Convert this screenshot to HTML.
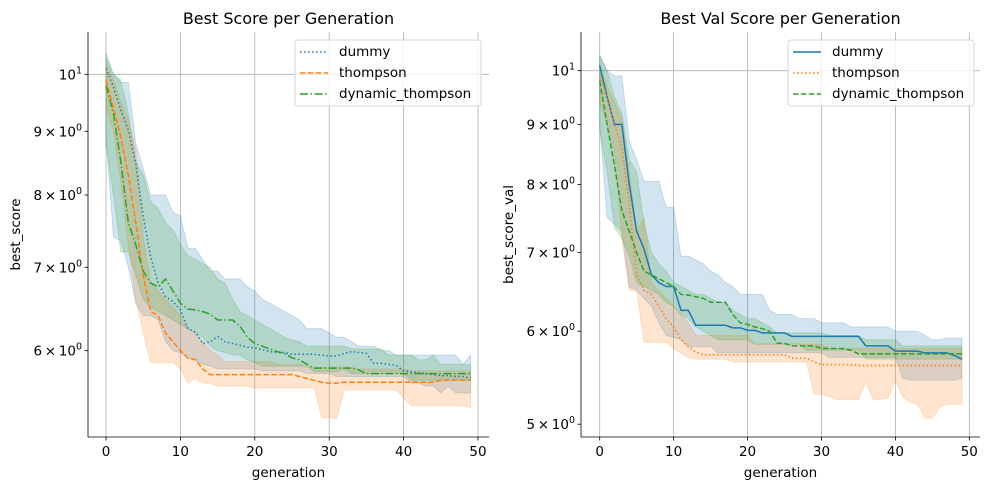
<!DOCTYPE html>
<html><head><meta charset="utf-8"><style>
body{margin:0;background:#fff;font-family:"Liberation Sans","DejaVu Sans",sans-serif}
svg text{font-family:"DejaVu Sans","Liberation Sans",sans-serif}
</style></head><body>
<svg id="c" width="989" height="490"></svg>
<script>
const generations=[...Array(50).keys()];
const xTicks=[0,10,20,30,40,50];
const yTicksL=[6,7,8,9];
const yTicksR=[5,6,7,8,9];
const seriesNames=["dummy","thompson","dynamic_thompson"];
// Left panel: best_score
const L_dummy=[10.11,9.77,9.36,9.02,8.48,7.69,7.14,6.80,6.63,6.57,6.47,6.25,6.21,6.08,6.10,6.16,6.10,6.08,6.06,6.04,6.03,6.01,5.99,5.98,5.98,5.96,5.96,5.96,5.96,5.95,5.94,5.94,5.97,5.99,5.98,5.97,5.86,5.86,5.85,5.84,5.78,5.77,5.76,5.75,5.74,5.73,5.73,5.72,5.72,5.70];
const L_thompson=[9.9,9.4,8.9,8.3,7.6,6.9,6.45,6.4,6.2,6.1,6.0,5.92,5.9,5.8,5.74,5.74,5.74,5.74,5.74,5.74,5.74,5.74,5.74,5.74,5.74,5.74,5.72,5.70,5.68,5.66,5.65,5.65,5.66,5.66,5.66,5.66,5.66,5.66,5.66,5.66,5.66,5.66,5.66,5.66,5.66,5.68,5.68,5.68,5.68,5.68];
const L_dyn=[9.8,9.3,8.5,7.6,7.3,6.95,6.8,6.75,6.85,6.7,6.55,6.48,6.47,6.45,6.42,6.35,6.35,6.35,6.28,6.15,6.08,6.05,6.02,5.99,5.97,5.92,5.90,5.85,5.81,5.81,5.81,5.81,5.81,5.81,5.79,5.75,5.75,5.75,5.75,5.75,5.75,5.75,5.75,5.75,5.75,5.75,5.75,5.75,5.75,5.75];
const L_dummyHi=[10.4,10.0,9.85,9.85,8.8,8.4,8.0,8.0,8.0,7.75,7.7,7.25,7.25,7.1,6.95,6.95,6.85,6.85,6.85,6.75,6.7,6.6,6.55,6.5,6.45,6.4,6.35,6.25,6.25,6.25,6.2,6.15,6.15,6.1,6.05,6.05,6.05,6.0,6.0,5.95,5.95,5.95,5.95,5.95,5.95,5.95,5.95,5.95,5.85,5.95];
const L_dummyLo=[8.9,7.4,7.35,7.0,6.55,6.4,6.4,6.35,6.1,6.0,5.98,5.92,5.9,5.85,5.83,5.8,5.8,5.8,5.8,5.8,5.8,5.78,5.78,5.78,5.78,5.78,5.78,5.75,5.75,5.75,5.75,5.72,5.72,5.72,5.72,5.72,5.72,5.72,5.72,5.72,5.72,5.65,5.65,5.62,5.62,5.55,5.62,5.55,5.55,5.55];
const L_thompHi=[10.2,9.9,9.5,9.2,8.7,7.4,6.8,6.7,6.6,6.5,6.4,6.25,6.2,6.1,6.0,5.95,5.88,5.88,5.88,5.88,5.88,5.88,5.88,5.85,5.85,5.85,5.85,5.82,5.82,5.82,5.82,5.82,5.82,5.82,5.8,5.8,5.8,5.8,5.8,5.8,5.8,5.78,5.78,5.78,5.78,5.78,5.78,5.78,5.78,5.78];
const L_thompLo=[9.4,9.0,8.2,7.3,6.6,6.2,5.87,5.87,5.87,5.87,5.8,5.65,5.7,5.65,5.65,5.62,5.62,5.62,5.62,5.62,5.6,5.6,5.6,5.6,5.6,5.6,5.6,5.6,5.6,5.3,5.3,5.29,5.58,5.58,5.58,5.58,5.58,5.58,5.58,5.58,5.5,5.42,5.42,5.42,5.42,5.42,5.42,5.42,5.42,5.4];
const L_dynHi=[10.3,10.0,9.9,9.3,8.5,8.3,7.9,7.8,7.6,7.5,7.3,7.15,7.1,7.05,7.0,6.85,6.8,6.6,6.45,6.4,6.35,6.3,6.25,6.2,6.15,6.12,6.1,6.05,6.05,6.05,6.05,6.05,6.05,6.02,6.02,6.02,6.02,6.02,5.95,5.95,5.95,5.95,5.9,5.9,5.95,5.85,5.85,5.85,5.85,5.85];
const L_dynLo=[8.8,8.0,7.2,7.2,6.9,6.6,6.5,6.45,6.4,6.35,6.3,6.25,6.2,6.15,6.05,6.0,5.98,5.95,5.95,5.9,5.87,5.83,5.83,5.83,5.83,5.83,5.83,5.83,5.77,5.77,5.77,5.77,5.8,5.75,5.75,5.75,5.75,5.75,5.75,5.75,5.75,5.68,5.68,5.68,5.68,5.68,5.68,5.68,5.68,5.68];
// Right panel: best_score_val
const R_dummy=[10.1,9.5,9.0,9.0,8.0,7.3,7.05,6.7,6.6,6.55,6.55,6.25,6.25,6.07,6.07,6.07,6.07,6.07,6.04,6.04,6.01,6.01,5.98,5.98,5.98,5.98,5.94,5.94,5.94,5.94,5.94,5.94,5.94,5.94,5.94,5.94,5.83,5.83,5.83,5.83,5.77,5.77,5.77,5.77,5.75,5.75,5.75,5.75,5.72,5.68];
const R_thompson=[9.9,9.5,9.0,8.6,7.7,6.7,6.5,6.45,6.3,6.15,6.05,5.9,5.82,5.76,5.73,5.73,5.73,5.73,5.73,5.73,5.73,5.73,5.73,5.73,5.73,5.73,5.69,5.69,5.69,5.65,5.62,5.62,5.62,5.62,5.62,5.61,5.61,5.61,5.61,5.61,5.61,5.61,5.61,5.61,5.61,5.61,5.61,5.61,5.61,5.61];
const R_dyn=[9.8,9.0,8.3,7.6,7.3,7.0,6.75,6.7,6.65,6.6,6.55,6.45,6.44,6.42,6.4,6.35,6.35,6.35,6.2,6.1,6.08,6.05,6.03,6.0,5.86,5.86,5.83,5.83,5.83,5.83,5.80,5.80,5.80,5.80,5.78,5.74,5.74,5.74,5.74,5.74,5.74,5.74,5.74,5.74,5.74,5.74,5.74,5.74,5.74,5.74];
const R_dummyHi=[10.3,10.0,9.9,9.9,8.7,8.4,8.05,8.05,8.05,7.65,7.65,6.95,6.95,6.9,6.85,6.75,6.7,6.6,6.55,6.45,6.45,6.45,6.45,6.25,6.2,6.2,6.2,6.15,6.15,6.15,6.1,6.1,6.1,6.1,6.05,6.05,6.05,6.05,6.05,6.05,6.0,6.0,6.0,6.0,5.95,5.9,5.9,5.92,5.92,5.92];
const R_dummyLo=[9.0,7.5,7.4,7.3,6.55,6.5,6.4,6.3,6.1,5.95,5.93,5.9,5.82,5.82,5.82,5.82,5.75,5.75,5.75,5.75,5.75,5.75,5.75,5.75,5.75,5.75,5.75,5.75,5.75,5.75,5.75,5.7,5.7,5.7,5.7,5.7,5.7,5.7,5.7,5.7,5.7,5.47,5.45,5.45,5.45,5.45,5.45,5.45,5.45,5.47];
const R_thompHi=[10.1,9.7,9.4,9.1,8.2,7.3,7.5,6.6,6.5,6.4,6.3,6.2,6.1,5.95,5.95,5.95,5.95,5.95,5.95,5.95,5.95,5.85,5.85,5.85,5.85,5.85,5.85,5.85,5.85,5.85,5.85,5.8,5.8,5.8,5.8,5.8,5.8,5.8,5.8,5.8,5.8,5.8,5.8,5.8,5.8,5.8,5.8,5.8,5.8,5.8];
const R_thompLo=[9.4,9.0,8.5,7.2,6.5,6.5,5.87,5.87,5.87,5.87,5.8,5.75,5.7,5.68,5.68,5.68,5.68,5.68,5.65,5.65,5.65,5.65,5.65,5.65,5.65,5.65,5.65,5.65,5.65,5.3,5.3,5.28,5.25,5.25,5.25,5.25,5.43,5.25,5.25,5.26,5.45,5.28,5.22,5.2,5.06,5.06,5.17,5.2,5.2,5.2];
const R_dynHi=[10.3,10.0,9.5,9.2,8.4,8.2,7.4,7.0,6.85,6.75,6.6,6.55,6.5,6.45,6.45,6.4,6.35,6.35,6.25,6.2,6.15,6.15,6.1,6.05,5.98,5.98,5.98,5.98,5.98,5.98,5.98,5.95,5.95,5.95,5.95,5.95,5.9,5.9,5.9,5.9,5.9,5.83,5.83,5.83,5.83,5.83,5.83,5.83,5.83,5.83];
const R_dynLo=[8.9,8.2,7.35,7.2,6.95,6.6,6.55,6.5,6.45,6.35,6.3,6.2,6.15,6.05,6.0,5.95,5.9,5.9,5.9,5.9,5.9,5.85,5.85,5.85,5.85,5.85,5.85,5.85,5.78,5.78,5.78,5.78,5.78,5.78,5.78,5.78,5.68,5.68,5.68,5.68,5.68,5.68,5.68,5.68,5.68,5.68,5.68,5.68,5.68,5.68];

const NS="http://www.w3.org/2000/svg";
const svg=document.getElementById('c');
const COL=["#1f77b4","#ff7f0e","#2ca02c"];
function mk(t,a,p){const e=document.createElementNS(NS,t);for(const k in a)e.setAttribute(k,a[k]);(p||svg).appendChild(e);return e;}

function panel(o){
  const g=mk('g',{});
  
  
  const X=v=>o.x0+(v-0)*(o.x50-o.x0)/50;
  const Y=v=>o.y10-Math.log(v/10)*o.k;
  xTicks.forEach(t=>{const l=mk('line',{x1:X(t),x2:X(t),y1:o.top,y2:o.bottom,stroke:'#b0b0b0','stroke-width':0.8},g);
    });
  const hg=mk('line',{x1:o.left,x2:o.right,y1:Y(10),y2:Y(10),stroke:'#b0b0b0','stroke-width':0.8},g);
  
  o.bands.forEach((b,i)=>{
    let d='M'+generations.map(j=>X(j)+','+Y(b[0][j])).join('L')+'L'+generations.slice().reverse().map(j=>X(j)+','+Y(b[1][j])).join('L')+'Z';
    const p=mk('path',{d:d,fill:COL[i],'fill-opacity':0.2,stroke:COL[i],'stroke-opacity':0.2,'stroke-width':1},g);
    
  });
  o.lines.forEach((s,i)=>{
    const d='M'+generations.map(j=>X(j)+','+Y(s[j])).join('L');
    const p=mk('path',{d:d,fill:'none',stroke:COL[i],'stroke-width':1.5,'stroke-dasharray':o.dash[i]},g);
    
  });
  mk('line',{x1:o.left,x2:o.left,y1:o.top,y2:o.bottom,stroke:'#000','stroke-width':0.8},g);
  mk('line',{x1:o.left,x2:o.right,y1:o.bottom,y2:o.bottom,stroke:'#000','stroke-width':0.8},g);
  xTicks.forEach(t=>{mk('line',{x1:X(t),x2:X(t),y1:o.bottom,y2:o.bottom+3.5,stroke:'#000','stroke-width':0.8},g);
    const tx=mk('text',{x:X(t),y:o.bottom+19,'font-size':13.5,'text-anchor':'middle'},g);tx.textContent=t;
    });
  const ys=[10].concat(o.yt);
  ys.forEach(t=>{const y=Y(t);mk('line',{x1:o.left-3.5,x2:o.left,y1:y,y2:y,stroke:'#000','stroke-width':0.8},g);
    const tx=mk('text',{x:o.left-6,y:y+5,'font-size':13.5,'text-anchor':'end'},g);
    
    if(t===10){tx.innerHTML='10<tspan dy="-6" font-size="9.5">1</tspan>';}
    else{tx.innerHTML=t+'\u2009×\u200910<tspan dy="-6" font-size="9.5">0</tspan>';}
  });
  const ti=mk('text',{x:(o.left+o.right)/2,y:24,'font-size':16,'text-anchor':'middle'},g);ti.textContent=o.title;
  
  const xl=mk('text',{x:(o.left+o.right)/2,y:477,'font-size':13.5,'text-anchor':'middle'},g);xl.textContent='generation';
  
  const yl=mk('text',{x:0,y:0,'font-size':13.5,'text-anchor':'middle',transform:`translate(${o.ylx},${(o.top+o.bottom)/2}) rotate(-90)`},g);yl.textContent=o.ylabel;
  
  const lg=mk('g',{},g);
  mk('rect',{x:o.lgx,y:40,width:186,height:66,rx:3,fill:'#fff','fill-opacity':0.8,stroke:'#ccc','stroke-width':0.8},lg);
  seriesNames.forEach((n,i)=>{const yy=56+i*21;
    mk('line',{x1:o.lgx+5,x2:o.lgx+33,y1:yy-4,y2:yy-4,stroke:COL[i],'stroke-width':1.5,'stroke-dasharray':o.dash[i]},lg);
    const t=mk('text',{x:o.lgx+44,y:yy,'font-size':13.5},lg);t.textContent=n;
    });
}
panel({name:'left-panel',left:88,right:489,top:32,bottom:437,x0:106,x50:478,y10:74.3,k:541,yt:yTicksL,
  title:'Best Score per Generation',ylabel:'best_score',ylx:20,lgx:295,
  dash:['1.5,2.5','5.5,2.4','8,2.5,1.5,2.5'],
  lines:[L_dummy,L_thompson,L_dyn],bands:[[L_dummyHi,L_dummyLo],[L_thompHi,L_thompLo],[L_dynHi,L_dynLo]]});
panel({name:'right-panel',left:581,right:980,top:32,bottom:437,x0:599.7,x50:969.3,y10:70.7,k:510,yt:yTicksR,
  title:'Best Val Score per Generation',ylabel:'best_score_val',ylx:513,lgx:788,
  dash:['none','1.5,2.5','5.5,2.4'],
  lines:[R_dummy,R_thompson,R_dyn],bands:[[R_dummyHi,R_dummyLo],[R_thompHi,R_thompLo],[R_dynHi,R_dynLo]]});
</script>
</body></html>
